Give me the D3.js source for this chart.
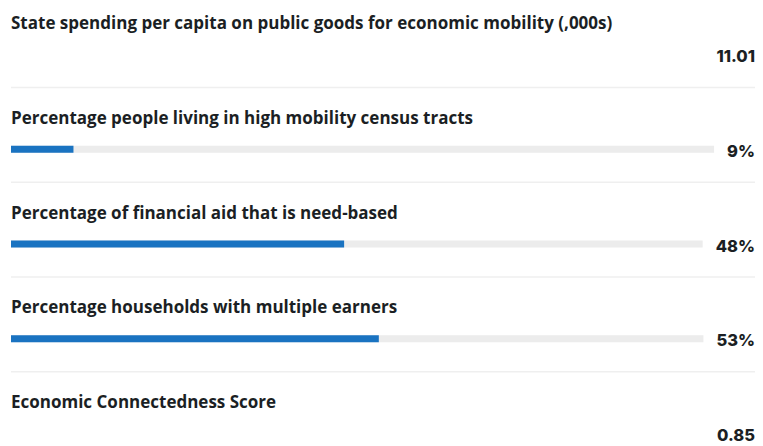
<!DOCTYPE html>
<html>
<head>
<meta charset="utf-8">
<script src="https://cdn.jsdelivr.net/npm/d3@7"></script>
<style>
  body { margin: 0; background: #fff; }
  .metric-label { font-family: "Open Sans", sans-serif; font-weight: 700; font-size: 17px; fill: #1b1f24; }
  .metric-value { font-family: "Inter", sans-serif; font-weight: 800; font-size: 16.5px; fill: #1b1f24; }
</style>
</head>
<body>
<svg class="bars"></svg>
<script>
"use strict";

const metrics = [
  "State spending per capita on public goods for economic mobility (,000s)",
  "Percentage people living in high mobility census tracts",
  "Percentage of financial aid that is need-based",
  "Percentage households with multiple earners",
  "Economic Connectedness Score",
];
const values = [11.01, 9, 48, 53, 0.85];
const valueLabels = ["11.01", "9%", "48%", "53%", "0.85"];
const hasBar = [false, true, true, true, false];

const width = 763;
const height = 446;
const left = 11;
const right = 755;
const rowStep = 94.75;

const svg = d3.select(".bars").attr("width", width).attr("height", height);

const y = d3
  .scaleBand()
  .domain(metrics)
  .range([0, rowStep * metrics.length]);

const x = d3.scaleLinear().domain([0, 100]).range([left, left + 694]);

const rows = svg
  .selectAll("g.row")
  .data(metrics.map((m, i) => ({ metric: m, value: values[i], text: valueLabels[i], bar: hasBar[i], i })))
  .join("g")
  .attr("class", "row")
  .attr("transform", (d) => `translate(0, ${y(d.metric)})`);

// separators between rows
rows
  .filter((d) => d.i < metrics.length - 1)
  .append("line")
  .attr("x1", left)
  .attr("x2", right)
  .attr("y1", 87.5)
  .attr("y2", 87.5)
  .attr("stroke", "#efefef")
  .attr("stroke-width", 1.5);

rows
  .append("text")
  .attr("class", "metric-label")
  .attr("x", left)
  .attr("y", 29)
  .text((d) => d.metric);

rows
  .append("text")
  .attr("class", "metric-value")
  .attr("x", right)
  .attr("y", 62)
  .attr("text-anchor", "end")
  .text((d) => d.text);

// track + bar, track stops short of the value label
rows.filter((d) => d.bar).each(function (d) {
  const g = d3.select(this);
  const tw = g.select(".metric-value").node().getComputedTextLength();
  g.insert("rect", ".metric-value")
    .attr("x", left)
    .attr("y", 51)
    .attr("width", right - tw - 13 - left)
    .attr("height", 7)
    .attr("fill", "#ececec");
  g.insert("rect", ".metric-value")
    .attr("x", left)
    .attr("y", 51)
    .attr("width", x(d.value) - left)
    .attr("height", 7)
    .attr("fill", "#1a73c1");
});
</script>
</body>
</html>
